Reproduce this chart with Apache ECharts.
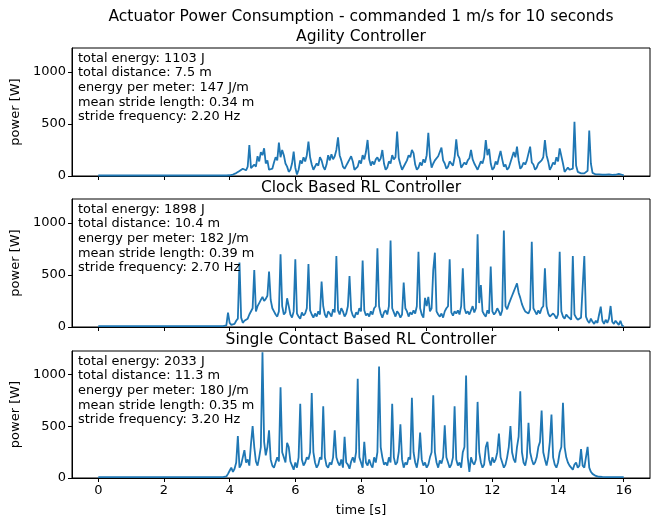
<!DOCTYPE html>
<html>
<head>
<meta charset="utf-8">
<script src="https://cdn.jsdelivr.net/npm/echarts@6/dist/echarts.min.js"></script>
<style>
  html, body { margin: 0; padding: 0; background: #fff; }
  #chart { width: 657px; height: 518px; }
</style>
</head>
<body>
<div id="chart"></div>
<script>
// samples every 0.05 s starting at 3.80 s, running to 16.00 s; before that the robot idles
const T0 = 3.8
const DT = 0.05

const agilityPower = [
  5, 5, 5, 6, 7, 9, 14, 20, 28, 38,
  48, 55, 70, 60, 55, 90, 298, 75, 60, 110,
  90, 190, 140, 230, 200, 266, 120, 150, 60, 50,
  70, 130, 180, 150, 320, 180, 250, 200, 120, 90,
  40, 60, 120, 234, 80, 15, 60, 150, 120, 180,
  140, 200, 330, 180, 110, 60, 70, 120, 100, 180,
  150, 90, 60, 110, 200, 150, 210, 160, 190, 250,
  372, 200, 150, 90, 70, 100, 130, 160, 190, 140,
  60, 50, 90, 150, 120, 200, 160, 230, 346, 160,
  100, 140, 110, 160, 180, 140, 170, 250, 120, 60,
  80, 140, 120, 200, 160, 180, 426, 170, 110, 60,
  70, 120, 150, 200, 180, 250, 220, 110, 60, 80,
  130, 100, 160, 130, 200, 416, 180, 80, 120, 150,
  140, 190, 180, 272, 150, 120, 70, 90, 140, 120,
  100, 180, 353, 200, 170, 80, 90, 130, 110, 150,
  170, 250, 160, 120, 90, 60, 100, 140, 120, 180,
  346, 200, 260, 120, 60, 80, 140, 110, 180, 240,
  160, 90, 110, 60, 80, 130, 120, 230, 180, 282,
  150, 70, 90, 130, 110, 150, 140, 282, 130, 110,
  60, 80, 120, 110, 150, 180, 346, 200, 140, 60,
  90, 130, 110, 180, 140, 266, 250, 120, 40, 60,
  80, 60, 50, 70, 522, 100, 40, 30, 25, 20,
  25, 30, 50, 436, 120, 30, 20, 15, 12, 15,
  10, 12, 10, 12, 10, 15, 12, 10, 14, 12, 10, 20, 30, 12, 6
]

const clockPower = [
  8, 10, 15, 138, 40, 20, 25, 30, 60, 80,
  620, 90, 40, 60, 50, 80, 120, 110, 180, 548,
  150, 200, 230, 260, 290, 250, 270, 300, 532, 260,
  180, 150, 120, 100, 150, 699, 200, 120, 140, 276,
  200, 120, 90, 150, 651, 130, 100, 80, 140, 110,
  130, 180, 606, 160, 120, 90, 130, 100, 150, 120,
  436, 200, 120, 90, 150, 130, 100, 170, 140, 683,
  160, 120, 180, 150, 100, 130, 200, 490, 160, 110,
  90, 140, 120, 180, 150, 638, 160, 110, 130, 100,
  150, 120, 180, 200, 757, 200, 130, 90, 140, 160,
  120, 200, 830, 180, 140, 100, 150, 130, 90, 120,
  426, 180, 150, 100, 140, 120, 160, 130, 200, 724,
  180, 120, 90, 280, 200, 290, 150, 180, 548, 714,
  150, 120, 100, 130, 90, 150, 180, 200, 651, 140,
  110, 150, 130, 160, 120, 200, 564, 180, 130, 150,
  120, 160, 200, 140, 180, 891, 230, 404, 150, 120,
  100, 160, 130, 580, 150, 120, 140, 180, 150, 110,
  160, 926, 200, 170, 220, 260, 300, 340, 380, 420,
  330, 280, 220, 180, 150, 160, 130, 170, 820, 180,
  150, 120, 160, 130, 180, 200, 564, 200, 130, 100,
  90, 130, 110, 80, 120, 724, 150, 100, 80, 120,
  100, 90, 70, 683, 120, 90, 70, 60, 90, 80,
  683, 100, 60, 40, 80, 50, 30, 60, 40, 120,
  195, 60, 30, 70, 40, 80, 202, 50, 30, 60,
  40, 20, 60, 15, 5
]

const singleContactPower = [
  8, 10, 15, 40, 70, 100, 60, 90, 150, 407,
  100, 130, 200, 269, 150, 180, 120, 330, 503, 300,
  160, 120, 200, 300, 1218, 350, 220, 300, 462, 180,
  120, 100, 150, 200, 160, 878, 250, 200, 150, 340,
  300, 160, 120, 80, 150, 100, 200, 718, 180, 120,
  150, 200, 180, 250, 824, 250, 150, 100, 130, 200,
  180, 695, 200, 120, 100, 150, 130, 200, 462, 200,
  150, 120, 180, 100, 400, 150, 130, 90, 160, 200,
  150, 250, 962, 200, 150, 100, 350, 150, 120, 180,
  130, 100, 200, 150, 250, 1080, 300, 200, 130, 150,
  120, 200, 150, 718, 200, 130, 150, 250, 519, 180,
  100, 150, 130, 200, 180, 776, 250, 150, 100, 200,
  439, 180, 120, 150, 100, 130, 200, 250, 801, 250,
  150, 100, 170, 140, 200, 510, 200, 150, 100, 130,
  200, 695, 180, 120, 150, 100, 250, 300, 993, 200,
  60, 200, 150, 130, 180, 737, 250, 150, 100, 130,
  300, 350, 180, 120, 200, 150, 180, 250, 430, 200,
  150, 100, 130, 200, 300, 503, 250, 180, 150, 300,
  400, 840, 250, 150, 120, 200, 535, 250, 180, 130,
  150, 200, 300, 350, 654, 250, 180, 120, 200, 350,
  615, 200, 130, 100, 150, 250, 300, 728, 300, 200,
  150, 120, 100, 80, 130, 150, 100, 120, 279, 120,
  100, 90, 301, 100, 60, 40, 30, 20, 15, 12,
  10, 10, 9, 9, 8, 8, 8, 8, 8, 8, 8, 8, 8, 8, 8
]

const panelTitles = [
  'Agility Controller',
  'Clock Based RL Controller',
  'Single Contact Based RL Controller',
]

const panelStats = [
  ['total energy: 1103 J', 'total distance: 7.5 m', 'energy per meter: 147 J/m',
    'mean stride length: 0.34 m', 'stride frequency: 2.20 Hz'],
  ['total energy: 1898 J', 'total distance: 10.4 m', 'energy per meter: 182 J/m',
    'mean stride length: 0.39 m', 'stride frequency: 2.70 Hz'],
  ['total energy: 2033 J', 'total distance: 11.3 m', 'energy per meter: 180 J/m',
    'mean stride length: 0.35 m', 'stride frequency: 3.20 Hz'],
]

const xTicks = [0, 2, 4, 6, 8, 10, 12, 14, 16]
const yTicks = [0, 500, 1000]

const FONT = 'DejaVu Sans'
const LINE = '#1f77b4'
const gridTops = [48, 199, 351]
const gridHeight = 128
const gridLeft = 72
const gridRight = 650

function toPoints(values) {
  const pts = [[0, values[0]]]
  values.forEach((v, i) => pts.push([+(T0 + i * DT).toFixed(2), v]))
  return pts
}

const powers = [agilityPower, clockPower, singleContactPower]

const chart = echarts.init(document.getElementById('chart'), null, { renderer: 'canvas' })

const grids = gridTops.map((top) => ({
  left: gridLeft,
  top: top,
  width: gridRight - gridLeft,
  height: gridHeight,
  show: true,
  borderColor: '#000',
  borderWidth: 1,
  backgroundColor: 'transparent',
}))

const xAxes = gridTops.map((_, i) => ({
  type: 'value',
  gridIndex: i,
  min: -0.8,
  max: 16.8,
  name: i === 2 ? 'time [s]' : '',
  nameLocation: 'middle',
  nameGap: 26,
  nameTextStyle: { color: '#000', fontFamily: FONT, fontSize: 13 },
  splitLine: { show: false },
  axisLine: { show: true, onZero: false, lineStyle: { color: '#000', width: 1 } },
  axisTick: { show: true, length: 4, customValues: xTicks, lineStyle: { color: '#000', width: 1 } },
  axisLabel: {
    show: i === 2,
    customValues: xTicks,
    formatter: (v) => String(v),
    color: '#000',
    fontFamily: FONT,
    fontSize: 13,
    margin: 6,
  },
}))

const yAxes = gridTops.map((_, i) => ({
  type: 'value',
  gridIndex: i,
  min: 0,
  max: 1230,
  name: 'power [W]',
  nameLocation: 'middle',
  nameGap: 40,
  nameRotate: 90,
  nameTextStyle: { color: '#000', fontFamily: FONT, fontSize: 13 },
  splitLine: { show: false },
  axisLine: { show: true, onZero: false, lineStyle: { color: '#000', width: 1 } },
  axisTick: { show: true, length: 4, customValues: yTicks, lineStyle: { color: '#000', width: 1 } },
  axisLabel: {
    customValues: yTicks,
    formatter: (v) => String(v),
    color: '#000',
    fontFamily: FONT,
    fontSize: 13,
    margin: 6,
  },
}))

const series = powers.map((values, i) => ({
  type: 'line',
  xAxisIndex: i,
  yAxisIndex: i,
  data: toPoints(values),
  showSymbol: false,
  lineStyle: { color: LINE, width: 1.8 },
  itemStyle: { color: LINE },
  z: 2,
}))

const centerX = (gridLeft + gridRight) / 2

const graphics = [
  {
    type: 'text',
    x: centerX,
    y: 17,
    style: {
      text: 'Actuator Power Consumption - commanded 1 m/s for 10 seconds',
      font: '15.5px "DejaVu Sans"',
      fill: '#000',
      align: 'center',
      verticalAlign: 'middle',
    },
  },
]

gridTops.forEach((top, i) => {
  graphics.push({
    type: 'text',
    x: centerX,
    y: top - 11,
    style: {
      text: panelTitles[i],
      font: '15.5px "DejaVu Sans"',
      fill: '#000',
      align: 'center',
      verticalAlign: 'middle',
    },
  })
  graphics.push({
    type: 'text',
    x: 78,
    y: top + 3,
    z: 10,
    style: {
      text: panelStats[i].join('\n'),
      font: '12.9px "DejaVu Sans"',
      lineHeight: 14.7,
      fill: '#000',
      align: 'left',
      verticalAlign: 'top',
    },
  })
})

chart.setOption({
  animation: false,
  backgroundColor: '#fff',
  grid: grids,
  xAxis: xAxes,
  yAxis: yAxes,
  series: series,
  graphic: graphics,
})
</script>
</body>
</html>
